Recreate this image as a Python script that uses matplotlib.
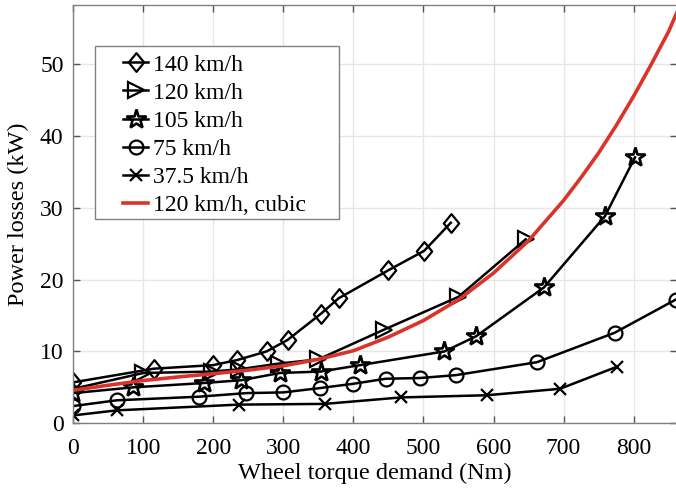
import numpy as np
import matplotlib
matplotlib.use('Agg')
import matplotlib.pyplot as plt
from matplotlib.patches import Rectangle
from matplotlib.path import Path

plt.rcParams['font.family'] = ['Liberation Serif', 'DejaVu Serif']

# %% Data (torque in Nm, losses in kW)
labels = ['140 km/h', '120 km/h', '105 km/h', '75 km/h', '37.5 km/h']

t140 = [0, 115, 200, 234, 276, 306, 353, 379, 450, 501, 539]
p140 = [5.7, 7.6, 8.1, 8.8, 10.0, 11.6, 15.2, 17.4, 21.3, 24.0, 27.9]

t120 = [0, 100, 198, 236, 293, 350, 443, 550, 646]
p120 = [4.8, 7.0, 7.2, 7.5, 8.3, 8.9, 13.0, 17.6, 25.6]

t105 = [0, 85, 186, 240, 295, 353, 410, 530, 575, 672, 759, 802]
p105 = [4.2, 5.0, 5.6, 6.0, 7.0, 7.2, 8.1, 10.0, 12.1, 18.9, 28.8, 37.0]

t75 = [0, 62, 179, 247, 300, 352, 400, 446, 495, 546, 662, 773, 860]
p75 = [2.4, 3.2, 3.7, 4.2, 4.3, 4.9, 5.5, 6.2, 6.3, 6.7, 8.5, 12.6, 17.2]

t37 = [0, 62, 236, 359, 468, 590, 695, 777]
p37 = [1.1, 1.8, 2.6, 2.7, 3.6, 3.9, 4.8, 7.9]

# cubic fit at 120 km/h, sampled along the red curve
t_cub = [0, 50, 100, 150, 200, 250, 300, 350, 400, 450, 500, 550, 600,
         650, 700, 725, 750, 775, 800, 825, 850, 862]
p_cub = [4.6, 5.3, 5.95, 6.45, 6.9, 7.4, 8.0, 8.9, 10.1, 12.0, 14.3, 17.2,
         20.9, 25.4, 31.0, 34.2, 37.6, 41.4, 45.5, 49.9, 54.5, 57.2]

# %% Figure
W, H = 676, 492
fig = plt.figure(figsize=(W / 100, H / 100), dpi=100)
ax = fig.add_axes([73.3 / W, 1 - 423.3 / H, (677 - 73.3) / W, (423.3 - 5) / H])

# MATLAB-like tall diamond
diamond = Path([(0, 1), (0.82, 0), (0, -1), (-0.82, 0), (0, 1)],
               [Path.MOVETO, Path.LINETO, Path.LINETO, Path.LINETO, Path.CLOSEPOLY])

style = dict(color='k', linewidth=1.8, mfc='none', mec='k', mew=1.6)
ax.plot(t140, p140, marker=diamond, markersize=13.5, label=labels[0], **style)
ax.plot(t120, p120, marker='>', markersize=12, label=labels[1], **style)
ax.plot(t105, p105, marker='*', markersize=15, label=labels[2],
        **dict(style, mew=1.9))
ax.plot(t75, p75, marker='o', markersize=10, label=labels[3], **style)
ax.plot(t37, p37, marker='x', markersize=8.5, label=labels[4], **style)
ax.plot(t_cub, p_cub, color='#d9342b', linewidth=2.6, label='120 km/h, cubic')

ax.set_xlim(0, 862)
ax.set_ylim(0, 58.2)
ax.set_xticks(np.arange(0, 801, 100))
ax.set_yticks(np.arange(0, 51, 10))
ax.grid(True, color='#e6e6e6', linewidth=1.0)
ax.set_axisbelow(True)
for s in ax.spines.values():
    s.set_color('#808080')
    s.set_linewidth(1.0)
ax.tick_params(direction='in', length=5, width=1.0, color='#555555',
               top=True, right=True, labelsize=17, pad=7)
ax.tick_params(axis='x', pad=10.5)

ax.set_xlabel('Wheel torque demand (Nm)', fontsize=17.5, labelpad=3)
ax.set_ylabel('Power losses (kW)', fontsize=17.5, labelpad=8)

# legend with MATLAB-style wide box
leg = ax.legend(loc='upper left', bbox_to_anchor=(123 / W, 1 - 54 / H),
                bbox_transform=fig.transFigure, frameon=False, fontsize=17,
                handlelength=1.06, handletextpad=0.19, labelspacing=0.28,
                borderpad=0.0, borderaxespad=0.0)
leg.set_zorder(6)
box = Rectangle((94.7 / W, 1 - 219 / H), (339 - 94.7) / W, (219 - 46) / H,
                transform=fig.transFigure, facecolor='white', edgecolor='#808080',
                linewidth=1.0, zorder=5, clip_on=False)
ax.add_artist(box)

fig.savefig('out.png', dpi=100)
